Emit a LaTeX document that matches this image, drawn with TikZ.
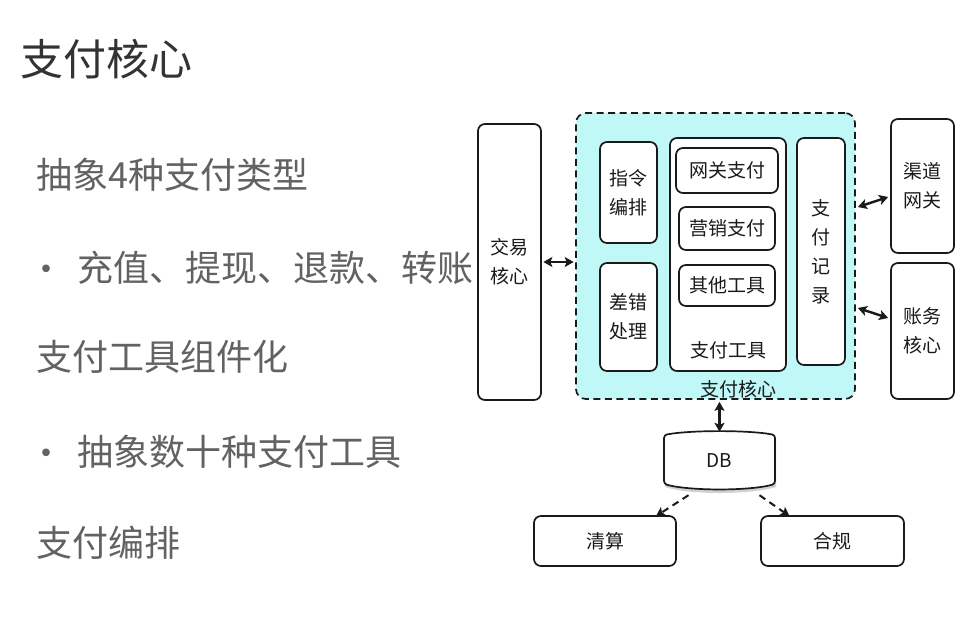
\documentclass[tikz,border=0pt]{standalone}
\usepackage{fontspec}
\setmainfont{Noto Sans CJK SC}
\usetikzlibrary{arrows.meta}
\definecolor{titlecol}{HTML}{333333}
\definecolor{bodycol}{HTML}{626262}
\definecolor{linecol}{HTML}{1A1A1A}
\definecolor{corefill}{HTML}{C0F8F8}
\tikzset{
  tip/.tip={Stealth[length=9pt,width=10pt,inset=2pt]},
  box/.style={draw=linecol, line width=1.7pt, rounded corners=7pt, fill=white,
    align=center, text=linecol, font=\fontsize{19}{29}\selectfont, inner sep=0pt},
  bodytext/.style={anchor=west, text=bodycol, font=\fontsize{36}{40}\selectfont, inner sep=0pt},
  biarrow/.style={line width=2.4pt, draw=linecol, tip-tip},
  dasharrow/.style={line width=2pt, draw=linecol, dash pattern=on 7pt off 5pt, -tip}
}
\begin{document}
\begin{tikzpicture}[x=1pt,y=-1pt]
\useasboundingbox[fill=white] (0,0) rectangle (979,633);

% left text
\node[anchor=west, text=titlecol, font=\fontsize{43}{48}\selectfont, inner sep=0pt] (title) at (20,59) {支付核心};
\node[bodytext] (l1) at (36,175) {抽象4种支付类型};
\node[bodytext] (b1) at (28,274) {·};
\node[bodytext] (l2) at (77,268) {充值、提现、退款、转账};
\node[bodytext] (l3) at (36,357) {支付工具组件化};
\node[bodytext] (b2) at (28,458) {·};
\node[bodytext] (l4) at (77,452) {抽象数十种支付工具};
\node[bodytext] (l5) at (36,543) {支付编排};

% diagram
\node[box, minimum width=63pt, minimum height=276pt] (jy) at (509.5,262) {交易\\核心};
\node[draw=linecol, line width=1.7pt, dash pattern=on 7pt off 4.5pt, fill=corefill, rounded corners=10pt,
      minimum width=279pt, minimum height=286pt, inner sep=0pt] (core) at (715.5,256) {};
\node[text=linecol, font=\fontsize{19}{22}\selectfont, inner sep=0pt] (corelabel) at (738,389) {支付核心};

\node[box, minimum width=57pt, minimum height=101pt] (zl) at (628.5,192.5) {指令\\编排};
\node[box, minimum width=57pt, minimum height=108pt] (cc) at (628.5,317) {差错\\处理};
\node[box, minimum width=116pt, minimum height=233pt] (gj) at (728,254.5) {};
\node[text=linecol, font=\fontsize{19}{22}\selectfont, inner sep=0pt] (gjlabel) at (728,350) {支付工具};
\node[box, minimum width=102pt, minimum height=45pt] (wg) at (727,170.5) {网关支付};
\node[box, minimum width=96pt, minimum height=43pt] (yx) at (727,228.5) {营销支付};
\node[box, minimum width=96pt, minimum height=41pt] (qt) at (727,285.5) {其他工具};
\node[box, minimum width=48pt, minimum height=227pt] (jl) at (821,251.5) {支\\付\\记\\录};

\node[box, minimum width=63pt, minimum height=134pt] (qd) at (922.5,186) {渠道\\网关};
\node[box, minimum width=63pt, minimum height=136pt] (zw) at (922.5,331) {账务\\核心};

% DB drum
\fill[black, opacity=0.18] (665,439) .. controls (690,433) and (749,433) .. (776,439) -- (776,487)
   .. controls (749,495) and (690,495) .. (665,487) -- cycle;
\draw[linecol, line width=1.7pt, fill=white, rounded corners=3pt]
   (664,435) .. controls (690,430) and (749,430) .. (775,435) -- (775,484)
   .. controls (749,491) and (690,491) .. (664,484) -- cycle;
\node[text=linecol, font=\fontsize{19}{22}\selectfont, inner sep=0pt, minimum width=111pt, minimum height=56pt] (db) at (719.5,461) {DB};

\node[box, minimum width=142pt, minimum height=50pt] (qs) at (605,541) {清算};
\node[box, minimum width=143pt, minimum height=50pt] (hg) at (832.5,541) {合规};

% connectors
\draw[biarrow] ([xshift=1.5pt]jy.east) -- ([xshift=-1.5pt]jy.east -| core.west);
\draw[biarrow] ([xshift=2pt,yshift=49pt]core.east) -- ([xshift=-2pt,yshift=-11pt]qd.west);
\draw[biarrow] ([xshift=2pt,yshift=-52pt]core.east) -- ([xshift=-2pt,yshift=13pt]zw.west);
\draw[biarrow] ([yshift=-2pt]db.north |- core.south) -- ([yshift=1pt]db.north);
\draw[dasharrow] ([xshift=-31pt,yshift=-6pt]db.south) -- ([xshift=51pt,yshift=-1pt]qs.north);
\draw[dasharrow] ([xshift=40pt,yshift=-6pt]db.south) -- ([xshift=-43pt,yshift=-1pt]hg.north);
\end{tikzpicture}
\end{document}
